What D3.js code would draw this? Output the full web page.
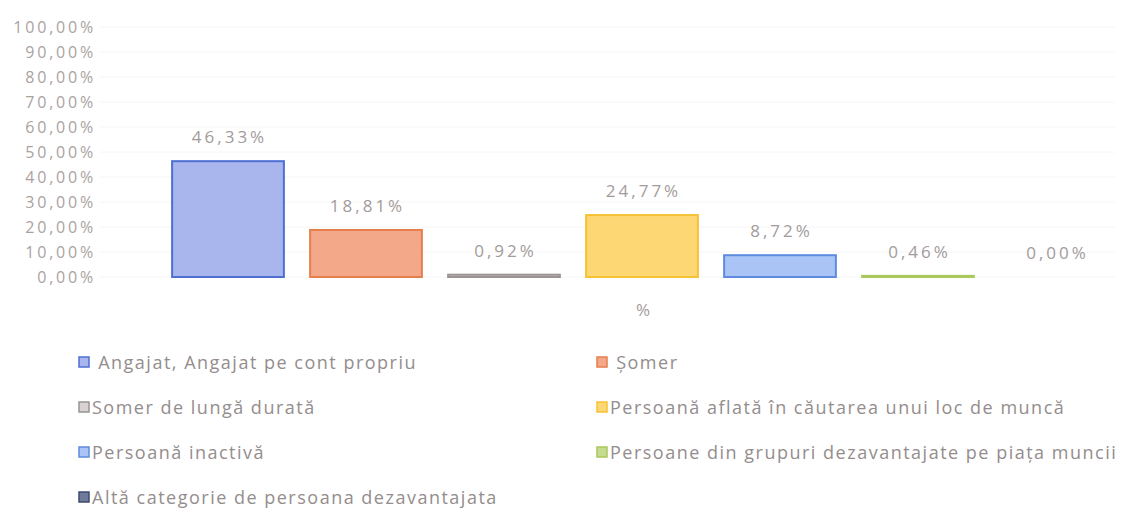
<!DOCTYPE html>
<html>
<head>
<meta charset="utf-8">
<script src="https://cdn.jsdelivr.net/npm/d3@7"></script>
<style>
  body { margin: 0; background: #fff; }
  text { font-family: "Open Sans", Lato, sans-serif; }
</style>
</head>
<body>
<div id="chart"></div>
<script>
// Chart data
const categories = [
  " Angajat, Angajat pe cont propriu",
  " Șomer",
  "Somer de lungă durată",
  "Persoană aflată în căutarea unui loc de muncă",
  "Persoană inactivă",
  "Persoane din grupuri dezavantajate pe piața muncii",
  "Altă categorie de persoana dezavantajata"
];
const values = [46.33, 18.81, 0.92, 24.77, 8.72, 0.46, 0.00];
const fills = ["#a9b6ee", "#f4a88a", "#d8d2d2", "#fdd774", "#aac5f5", "#c5dc90", "#6e7a9a"];
const strokes = ["#4d6fd2", "#e77f4c", "#9a9494", "#f6c233", "#5e8be0", "#a9c95c", "#3e4a70"];
const yTicks = [0, 10, 20, 30, 40, 50, 60, 70, 80, 90, 100];

const width = 1125, height = 509;
const margin = { top: 27, left: 159, right: 0 };
const plotBottom = 277;

const svg = d3.select("#chart").append("svg")
  .attr("width", width)
  .attr("height", height);

const x = d3.scaleBand()
  .domain(categories)
  .range([margin.left, width - margin.right])
  .paddingInner(0.19)
  .paddingOuter(0.095);

const y = d3.scaleLinear()
  .domain([0, 100])
  .range([plotBottom, margin.top]);

const fmt = v => d3.format(".2f")(v).replace(".", ",") + "%";

// faint gridlines
svg.append("g")
  .selectAll("line")
  .data(yTicks)
  .join("line")
  .attr("x1", 100)
  .attr("x2", width - 10)
  .attr("y1", d => y(d))
  .attr("y2", d => y(d))
  .attr("stroke", "#f6f6f6")
  .attr("stroke-width", 1);

// y axis labels
const yAxis = d3.axisLeft(y)
  .tickValues(yTicks)
  .tickSize(0)
  .tickPadding(0)
  .tickFormat(fmt);

svg.append("g")
  .attr("transform", "translate(96,0)")
  .call(yAxis)
  .call(g => g.select(".domain").remove())
  .call(g => g.selectAll("text")
    .attr("fill", "#aaa2a2")
    .style("font-size", "16px")
    .style("letter-spacing", "2.8px")
    .style("font-family", "'Open Sans', sans-serif"));

// bars
svg.append("g")
  .selectAll("rect")
  .data(values)
  .join("rect")
  .attr("x", (d, i) => x(categories[i]))
  .attr("y", d => y(d))
  .attr("width", x.bandwidth())
  .attr("height", d => Math.max(0, plotBottom - y(d)))
  .attr("fill", (d, i) => fills[i])
  .attr("stroke", (d, i) => d > 0 ? strokes[i] : "none")
  .attr("stroke-width", 2);

// value labels
svg.append("g")
  .selectAll("text")
  .data(values)
  .join("text")
  .attr("x", (d, i) => x(categories[i]) + x.bandwidth() / 2 + 1.5)
  .attr("y", d => y(d) - 18)
  .attr("text-anchor", "middle")
  .attr("fill", "#a39b9b")
  .style("font-size", "17px")
  .style("letter-spacing", "3px")
  .text(d => fmt(d));

// axis name
svg.append("text")
  .attr("x", 643)
  .attr("y", 316)
  .attr("text-anchor", "middle")
  .attr("fill", "#a39b9b")
  .style("font-size", "17px")
  .text("%");

// legend, two columns
const legend = svg.append("g")
  .selectAll("g")
  .data(categories)
  .join("g")
  .attr("transform", (d, i) => `translate(${i % 2 === 0 ? 79 : 597}, ${362 + Math.floor(i / 2) * 45})`);

legend.append("rect")
  .attr("x", 0)
  .attr("y", -5)
  .attr("width", 10)
  .attr("height", 10)
  .attr("fill", (d, i) => fills[i])
  .attr("stroke", (d, i) => strokes[i])
  .attr("stroke-width", 1.5);

legend.append("text")
  .attr("x", 13)
  .attr("y", 6.5)
  .attr("fill", "#948d8d")
  .style("font-size", "18px")
  .style("letter-spacing", "1.5px")
  .attr("xml:space", "preserve")
  .style("white-space", "pre")
  .text(d => d);
</script>
</body>
</html>
